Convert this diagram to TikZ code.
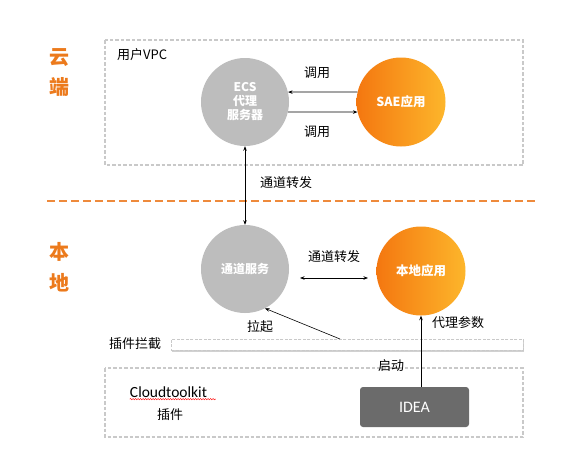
\documentclass[tikz,border=0pt]{standalone}
\usepackage{fontspec}
\setmainfont{Noto Sans CJK SC}
\newfontfamily\calib{Carlito}
\usetikzlibrary{arrows.meta,calc,decorations.pathmorphing}
\definecolor{boxgray}{HTML}{C9C9C9}
\definecolor{circgray}{HTML}{BDBDBD}
\definecolor{orA}{HTML}{F47710}
\definecolor{orB}{HTML}{FDB62B}
\definecolor{zone}{HTML}{EC7A1C}
\definecolor{dashor}{HTML}{EE8A3C}
\definecolor{ideagray}{HTML}{6B6B6B}
\tikzset{
  zonebox/.style={draw=boxgray,line width=1.6pt,dash pattern=on 3.5pt off 2pt},
  graycirc/.style={circle,fill=circgray,minimum size=88pt,inner sep=0pt,text=white,font=\bfseries\fontsize{12}{14}\selectfont,align=center},
  orcirc/.style={circle,left color=orA,right color=orB,minimum size=89pt,inner sep=0pt,text=white,font=\bfseries\fontsize{12.5}{14}\selectfont},
  lbl/.style={font=\fontsize{13}{15}\selectfont,inner sep=0pt},
  zonelbl/.style={font=\bfseries\fontsize{20}{22}\selectfont,text=zone,inner sep=0pt},
  arr/.style={-{Stealth[length=4.5pt,width=3.5pt]},line width=0.7pt},
  arrs/.style={{Stealth[length=4.5pt,width=3.5pt]}-{Stealth[length=4.5pt,width=3.5pt]},line width=0.7pt},
}
\begin{document}
\begin{tikzpicture}[x=1pt,y=-1pt]
\useasboundingbox[fill=white] (0,0) rectangle (581,472);
% zones
\node[zonelbl] (yun) at (59,58) {云};
\node[zonelbl] (duan) at (59,87) {端};
\node[zonelbl] (ben) at (59,252) {本};
\node[zonelbl] (di) at (59,283) {地};
\draw[dashor,line width=1.3pt,dash pattern=on 8pt off 4pt] (47,201) -- (535,201);
% cloud box
\draw[zonebox] (105,40) rectangle (523,165);
\node[lbl,anchor=west] (vpc) at (117,55) {用户VPC};
\node[graycirc] (ecs) at (245,102) {ECS\\代理\\服务器};
\node[orcirc] (sae) at (401,102) {SAE应用};
\draw[arr] (sae.167) -- (ecs.13);
\draw[arr] (ecs.-13) -- (sae.193);
\node[lbl] (call1) at (317,73) {调用};
\node[lbl] (call2) at (317,132) {调用};
% local
\node[graycirc] (tunnel) at (245,269) {通道服务};
\node[orcirc] (local) at (421,271) {本地应用};
\draw[arrs] (ecs.south) -- (tunnel.north);
\node[lbl] (fwd1) at (286,183) {通道转发};
\coordinate (fa) at (300,278);
\coordinate (fb) at (368,278);
\draw[arrs] (fa) -- (fb);
\node[lbl] (fwd2) at (334,257) {通道转发};
% plugin bar
\fill[black!18] (172,341) rectangle (524,351.5);
\node[draw=boxgray,fill=white,line width=0.6pt,dash pattern=on 3pt off 1.5pt,minimum width=352pt,minimum height=11pt,inner sep=0pt,anchor=north west] (bar) at (171,339) {};
\node[lbl] (intercept) at (135,344) {插件拦截};
\coordinate (pull) at (340,339);
\draw[line width=0.6pt,-{Stealth[length=4.5pt,width=3.5pt]}] (pull) -- (tunnel.-63);
\node[lbl] (pulltxt) at (260,327) {拉起};
% bottom box
\draw[zonebox] (105,368) rectangle (523,437);
\node[font=\calib\fontsize{15.5}{17}\selectfont,inner sep=0pt] (ctk) at (168.5,392) {Cloudtoolkit};
\draw[red,line width=0.4pt,decorate,decoration={snake,amplitude=0.7pt,segment length=2.5pt}] (ctk.south west)++(0,1.5) -- ++(86,0);
\node[lbl] (plug) at (170,415) {插件};
\node[fill=ideagray,rounded corners=3pt,minimum width=109pt,minimum height=40pt,inner sep=0pt,text=white,font=\calib\fontsize{16}{18}\selectfont] (idea) at (414.5,407) {IDEA};
\coordinate (ideatop) at (421,387);
\draw[arr] (ideatop) -- (local.south);
\node[lbl] (proxy) at (458,323) {代理参数};
\node[lbl] (start) at (391,366) {启动};
\end{tikzpicture}
\end{document}
